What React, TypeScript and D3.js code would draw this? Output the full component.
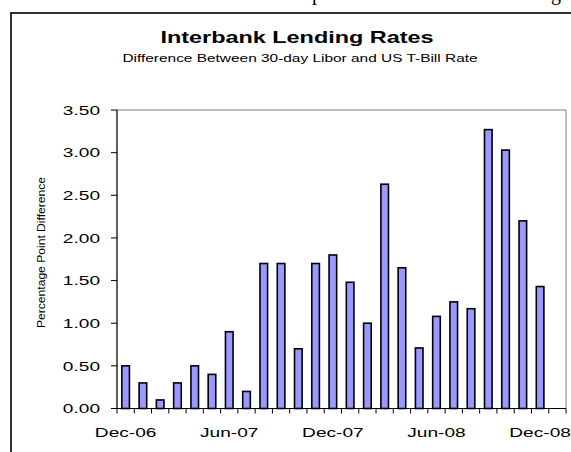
import React from "react";
import * as d3 from "d3";

const categories = [
  "Dec-06","Jan-07","Feb-07","Mar-07","Apr-07","May-07","Jun-07","Jul-07","Aug-07","Sep-07","Oct-07","Nov-07",
  "Dec-07","Jan-08","Feb-08","Mar-08","Apr-08","May-08","Jun-08","Jul-08","Aug-08","Sep-08","Oct-08","Nov-08",
  "Dec-08","Jan-09",
];
const values: (number | null)[] = [
  0.50, 0.30, 0.10, 0.30, 0.50, 0.40, 0.90, 0.20, 1.70, 1.70, 0.70, 1.70,
  1.80, 1.48, 1.00, 2.63, 1.65, 0.71, 1.08, 1.25, 1.17, 3.27, 3.03, 2.20,
  1.43, null,
];
const yTicks = [0, 0.5, 1, 1.5, 2, 2.5, 3, 3.5];
const xLabels = ["Dec-06", "Jun-07", "Dec-07", "Jun-08", "Dec-08"];

const title = "Interbank Lending Rates";
const subtitle = "Difference Between 30-day Libor and US T-Bill Rate";
const yTitle = "Percentage Point Difference";

const W = 571, H = 452;
const L = 117, R = 566, T = 110, B = 408.5;
const SX = 1.47;
const font = "'Liberation Sans', Arial, sans-serif";

export default function App() {
  const x = d3.scaleBand<string>().domain(categories).range([L, R]).padding(0);
  const y = d3.scaleLinear().domain([0, 3.5]).range([B, T]);
  const step = x.step();
  const barW = step * 0.44;

  return (
    <svg width={W} height={H} style={{ position: "absolute", left: 0, top: 0, background: "#fff" }}>
      <rect x={0} y={0} width={W} height={H} fill="#fff" />
      {/* page text fragments cut off at the top */}
      <text x={312} y={0} fontFamily="'Liberation Serif', 'Times New Roman', serif" fontSize={20} fill="#000">p</text>
      <text x={551} y={0} fontFamily="'Liberation Serif', 'Times New Roman', serif" fontSize={20} fill="#000">g</text>
      {/* chart outer border */}
      <rect x={11} y={13} width={600} height={480} fill="none" stroke="#000" strokeWidth={1.6} />

      {/* titles */}
      <g transform={`translate(297,43) scale(1.42,1)`}>
        <text textAnchor="middle" fontFamily={font} fontWeight="bold" fontSize={16.5} fill="#000">{title}</text>
      </g>
      <g transform={`translate(300,62) scale(${SX},1)`}>
        <text textAnchor="middle" fontFamily={font} fontSize={10.5} fill="#000">{subtitle}</text>
      </g>

      {/* plot area border */}
      <rect x={L} y={T} width={R - L} height={B - T} fill="none" stroke="#808080" strokeWidth={1} />

      {/* bars */}
      {categories.map((c, i) => {
        const v = values[i];
        if (v == null) return null;
        const bx = (x(c) as number) + (step - barW) / 2;
        return (
          <rect key={c} x={bx} y={y(v)} width={barW} height={B - y(v)}
            fill="#9999FF" stroke="#000" strokeWidth={1.6} />
        );
      })}

      {/* y axis */}
      <line x1={L} x2={L} y1={T} y2={B} stroke="#000" strokeWidth={1} />
      {yTicks.map((t) => (
        <g key={t}>
          <line x1={L - 6} x2={L} y1={y(t)} y2={y(t)} stroke="#000" strokeWidth={1} />
          <g transform={`translate(100,${y(t)}) scale(${SX},1)`}>
            <text textAnchor="end" dy="0.36em" fontFamily={font} fontSize={13} fill="#000">{d3.format(".2f")(t)}</text>
          </g>
        </g>
      ))}

      {/* x axis */}
      <line x1={L} x2={R} y1={B} y2={B} stroke="#000" strokeWidth={1} />
      {d3.range(categories.length + 1).map((i) => {
        const tx = L + i * step;
        return <line key={i} x1={tx} x2={tx} y1={B} y2={B + 5} stroke="#000" strokeWidth={1} />;
      })}
      {xLabels.map((lab) => (
        <g key={lab} transform={`translate(${(x(lab) as number) + step / 2},437) scale(${SX},1)`}>
          <text textAnchor="middle" fontFamily={font} fontSize={13} fill="#000">{lab}</text>
        </g>
      ))}

      {/* y title */}
      <g transform={`translate(45,252.5) rotate(-90)`}>
        <text textAnchor="middle" fontFamily={font} fontSize={11} textLength={151} lengthAdjust="spacingAndGlyphs" fill="#000">{yTitle}</text>
      </g>
    </svg>
  );
}
